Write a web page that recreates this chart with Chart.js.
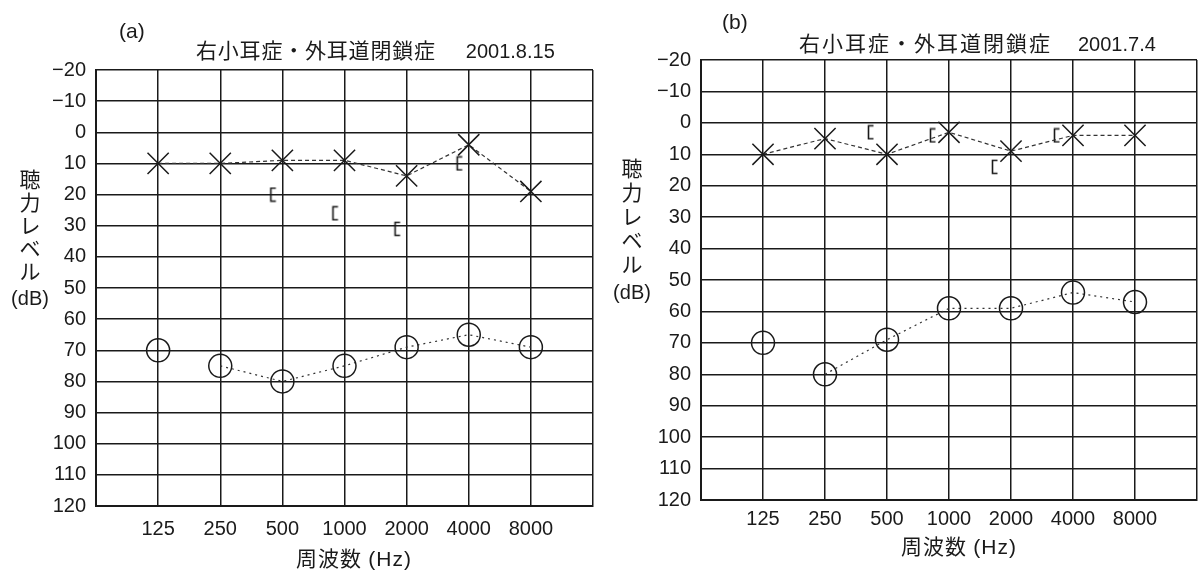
<!DOCTYPE html>
<html lang="ja">
<head>
<meta charset="utf-8">
<title>右小耳症・外耳道閉鎖症 オージオグラム</title>
<script src="https://cdn.jsdelivr.net/npm/chart.js@4.4.1/dist/chart.umd.min.js"></script>
<style>
  html, body { margin: 0; padding: 0; background: #fff; }
  #wrap { position: relative; width: 1204px; height: 572px; overflow: hidden; color: #1a1a1a; }
  canvas { position: absolute; top: 0; }
  #chartA { left: 0; }
  #chartB { left: 600px; }
  .txt { position: absolute; white-space: nowrap; font-family: 'Liberation Sans', Arial, sans-serif; font-size: 20px; line-height: 24px; }
  .jp { font-family: 'Noto Sans CJK JP', sans-serif; }
  .ytitle { position: absolute; width: 50px; text-align: center; font-family: 'Noto Sans CJK JP', sans-serif; font-size: 21px; }
  .ytitle .db { font-family: 'Liberation Sans', Arial, sans-serif; font-size: 20px; margin-top: 5px; }
  .xtitle { position: absolute; transform: translateX(-50%); white-space: nowrap; font-size: 21px; line-height: 24px; letter-spacing: 1px; }
  .xtitle .hz { font-family: 'Liberation Sans', Arial, sans-serif; }
</style>
</head>
<body>
<div id="wrap">
  <canvas id="chartA" width="610" height="572"></canvas>
  <canvas id="chartB" width="614" height="572"></canvas>

  <div class="txt" style="left:119px; top:19px; font-size:21px;">(a)</div>
  <div class="txt" style="left:196px; top:37px;"><span class="jp" style="font-size:21px; letter-spacing:0.8px;">右小耳症・外耳道閉鎖症</span><span style="margin-left:30px;">2001.8.15</span></div>
  <div class="ytitle" style="left:5px; top:167px; line-height:23px;">
    <div>聴</div><div>力</div><div>レ</div><div>ベ</div><div>ル</div><div class="db">(dB)</div>
  </div>
  <div class="xtitle" style="left:354px; top:545px;"><span class="jp">周波数</span> <span class="hz">(Hz)</span></div>

  <div class="txt" style="left:722px; top:10px; font-size:21px;">(b)</div>
  <div class="txt" style="left:799px; top:30px;"><span class="jp" style="font-size:21px; letter-spacing:2px;">右小耳症・外耳道閉鎖症</span><span style="margin-left:26px;">2001.7.4</span></div>
  <div class="ytitle" style="left:607px; top:155px; line-height:24px;">
    <div>聴</div><div>力</div><div>レ</div><div>ベ</div><div>ル</div><div class="db">(dB)</div>
  </div>
  <div class="xtitle" style="left:959px; top:533px;"><span class="jp">周波数</span> <span class="hz">(Hz)</span></div>
</div>

<script>
// Tick labels
const freqLabels = ['125', '250', '500', '1000', '2000', '4000', '8000'];
const levelLabels = ['−20', '−10', '0', '10', '20', '30', '40', '50', '60', '70', '80', '90', '100', '110', '120'];

// (a) 2001.8.15  (dB, null = not measured)
const crossA = [10, 10, 9, 9, 14, 4, 19];
const circleA = [70, 75, 80, 75, 69, 65, 69];
const boneA = [null, null, 20, 26, 31, 10, null];

// (b) 2001.7.4
const crossB = [10, 5, 10, 3, 9, 4, 4];
const circleB = [70, 80, 69, 59, 59, 54, 57];
const boneB = [null, null, 3, 4, 14, 4, null];

const INK = '#1a1a1a';
const LINE = '#333';

Chart.defaults.font.family = "'Liberation Sans', Arial, sans-serif";
Chart.defaults.font.size = 20;
Chart.defaults.color = INK;

function toPoints(values) {
  return values
    .map((v, i) => (v === null ? null : { x: i + 1, y: v }))
    .filter(p => p !== null);
}

// "[" marker drawn to the left of the frequency line
function makeBracket(offset) {
  const c = document.createElement('canvas');
  const w = offset * 2 + 12;
  const h = 16;
  c.width = w;
  c.height = h;
  const g = c.getContext('2d');
  const x = w / 2 - offset - 2.5;
  g.strokeStyle = INK;
  g.lineWidth = 1.6;
  g.beginPath();
  g.moveTo(x + 5, 1.5);
  g.lineTo(x, 1.5);
  g.lineTo(x, h - 1.5);
  g.lineTo(x + 5, h - 1.5);
  g.stroke();
  return c;
}

function drawAudiogram(canvasId, cfg) {
  const ctx = document.getElementById(canvasId).getContext('2d');
  return new Chart(ctx, {
    type: 'line',
    data: {
      datasets: [
        {
          label: '×',
          data: toPoints(cfg.cross),
          borderColor: LINE,
          borderWidth: 1.2,
          borderDash: [4, 3],
          pointStyle: 'crossRot',
          pointRadius: 15,
          pointBorderColor: INK,
          pointBorderWidth: 1.5,
          fill: false
        },
        {
          label: '○',
          data: toPoints(cfg.circle),
          borderColor: LINE,
          borderWidth: 1.2,
          borderDash: [2, 4],
          segment: {
            // no line between 125 and 250
            borderColor: c => (c.p0DataIndex === 0 ? 'rgba(0,0,0,0)' : LINE)
          },
          pointStyle: 'circle',
          pointRadius: 11.5,
          pointBorderColor: INK,
          pointBackgroundColor: 'rgba(0,0,0,0)',
          pointBorderWidth: 1.5,
          fill: false
        },
        {
          label: '[',
          data: toPoints(cfg.bone),
          showLine: false,
          pointStyle: makeBracket(cfg.bracketOffset),
          pointRadius: 8
        }
      ]
    },
    options: {
      responsive: false,
      animation: false,
      events: [],
      layout: {
        // right padding must cover the point overflow (~16.5px)
        padding: { top: cfg.top, right: 17, bottom: 0, left: 0 }
      },
      plugins: {
        legend: { display: false },
        tooltip: { enabled: false }
      },
      scales: {
        x: {
          type: 'linear',
          min: 0,
          max: 8,
          afterFit: axis => { axis.height = cfg.xHeight; },
          ticks: {
            stepSize: 1,
            autoSkip: false,
            maxRotation: 0,
            padding: cfg.xPad,
            callback: v => freqLabels[v - 1] || ''
          },
          grid: { color: INK, lineWidth: 1.5, drawTicks: false },
          border: { color: INK, width: 2 }
        },
        y: {
          type: 'linear',
          reverse: true,
          min: -20,
          max: 120,
          afterFit: axis => { axis.width = cfg.yWidth; },
          ticks: {
            stepSize: 10,
            padding: 10,
            callback: v => levelLabels[Math.round((v + 20) / 10)]
          },
          grid: { color: INK, lineWidth: 1.5, drawTicks: false },
          border: { color: INK, width: 2 }
        }
      }
    }
  });
}

drawAudiogram('chartA', {
  cross: crossA, circle: circleA, bone: boneA,
  bracketOffset: 9,
  top: 70, xHeight: 66, yWidth: 96, xPad: 11
});

drawAudiogram('chartB', {
  cross: crossB, circle: circleB, bone: boneB,
  bracketOffset: 16,
  top: 60, xHeight: 72, yWidth: 101, xPad: 7
});
</script>
</body>
</html>
